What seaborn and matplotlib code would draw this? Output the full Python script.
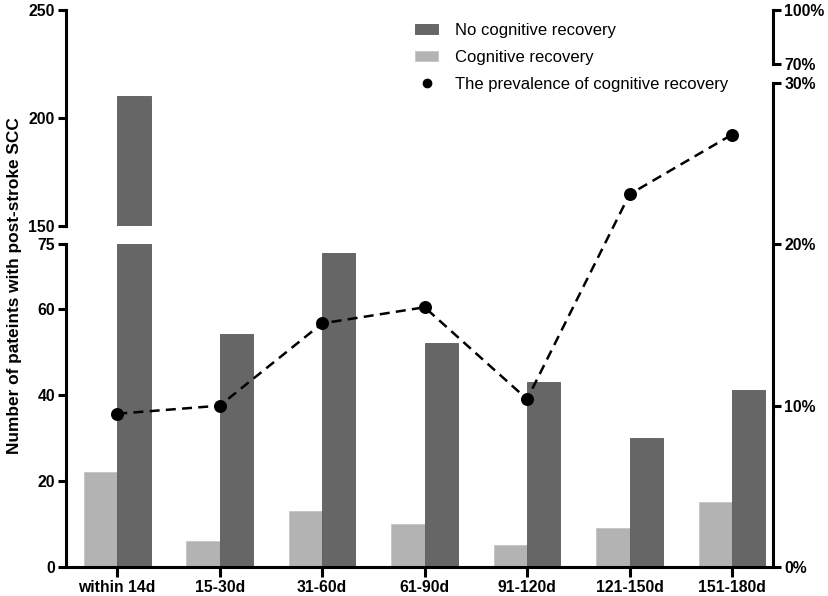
import matplotlib
matplotlib.use("Agg")
import matplotlib.pyplot as plt
import matplotlib.ticker as mticker
from matplotlib.patches import Patch
from matplotlib.lines import Line2D
import pandas as pd
import seaborn as sns

periods = ["within 14d", "15-30d", "31-60d", "61-90d", "91-120d", "121-150d", "151-180d"]
recovered = [22, 6, 13, 10, 5, 9, 15]
not_recovered = [210, 54, 73, 52, 43, 30, 41]
prevalence = [9.5, 10.0, 15.1, 16.1, 10.4, 23.1, 26.8]

df = pd.DataFrame({
    "period": periods * 2,
    "group": ["Cognitive recovery"] * 7 + ["No cognitive recovery"] * 7,
    "count": recovered + not_recovered,
})
palette = {"Cognitive recovery": "#b3b3b3", "No cognitive recovery": "#666666"}
hue_order = ["Cognitive recovery", "No cognitive recovery"]

sns.set_style("ticks")
plt.rcParams["font.family"] = ["Liberation Sans", "DejaVu Sans"]
plt.rcParams["text.color"] = "black"
plt.rcParams["xtick.color"] = "black"
plt.rcParams["ytick.color"] = "black"
plt.rcParams["axes.edgecolor"] = "black"

W, H = 829, 596
fig = plt.figure(figsize=(W / 100, H / 100), dpi=100)


def box(x0, y0, x1, y1):
    # pixel box (top-left origin) -> figure fraction
    return [x0 / W, 1 - y1 / H, (x1 - x0) / W, (y1 - y0) / H]


ax_lo = fig.add_axes(box(66, 244, 773, 567))
ax_hi = fig.add_axes(box(66, 10, 773, 226))
ax_r = fig.add_axes(box(66, 83, 773, 567))
ax_r2 = fig.add_axes(box(66, 10, 773, 64))

xlim = (-0.5, 6.4)
spine_w = 2.2
tick_kw = dict(width=spine_w, length=6, labelsize=11.3, pad=2)

for ax in (ax_lo, ax_hi):
    sns.barplot(data=df, x="period", y="count", hue="group", hue_order=hue_order,
                palette=palette, width=0.65, gap=0, saturation=1, legend=False,
                edgecolor="#5a5a5a", linewidth=0.6, ax=ax)
    ax.set_xlim(*xlim)
    ax.set_xlabel("")
    ax.set_ylabel("")
    for s in ("top", "right"):
        ax.spines[s].set_visible(False)
    ax.spines["left"].set_linewidth(spine_w)
    ax.spines["bottom"].set_linewidth(spine_w)
    ax.tick_params(**tick_kw)
    ax.patch.set_visible(False)

for p in ax_lo.patches + ax_hi.patches:
    if p.get_facecolor()[0] > 0.6:
        p.set_edgecolor("#c4c4c4")

ax_lo.set_ylim(0, 75)
ax_lo.set_yticks([0, 20, 40, 60, 75])
ax_hi.set_ylim(150, 250)
ax_hi.set_yticks([150, 200, 250])
ax_hi.spines["bottom"].set_visible(False)
ax_hi.tick_params(axis="x", bottom=False, labelbottom=False)
ax_lo.tick_params(axis="x", length=7)
for lab in ax_lo.get_xticklabels() + ax_lo.get_yticklabels() + ax_hi.get_yticklabels():
    lab.set_fontweight("bold")

sns.pointplot(x=periods, y=prevalence, color="black", linestyle="--", marker="o",
              markersize=8, linewidth=1.8, ax=ax_r)
ax_r.lines[0].set_dashes([4, 2.5])
for ax in (ax_r, ax_r2):
    ax.set_xlim(*xlim)
    ax.patch.set_visible(False)
    for s in ("top", "left", "bottom"):
        ax.spines[s].set_visible(False)
    ax.spines["right"].set_linewidth(spine_w)
    ax.tick_params(axis="x", bottom=False, labelbottom=False)
    ax.yaxis.tick_right()
    ax.tick_params(axis="y", **tick_kw)
    ax.yaxis.set_major_formatter(mticker.FuncFormatter(lambda v, _: f"{v:.0f}%"))
ax_r.set_ylim(0, 30)
ax_r.set_yticks([0, 10, 20, 30])
ax_r2.set_ylim(70, 100)
ax_r2.set_yticks([70, 100])
for ax in (ax_r, ax_r2):
    for lab in ax.get_yticklabels():
        lab.set_fontweight("bold")

fig.text(15 / W, 1 - 286 / H, "Number of pateints with post-stroke SCC",
         rotation=90, ha="center", va="center", fontsize=12.4, fontweight="bold")

handles = [
    Patch(facecolor="#666666", edgecolor="#5a5a5a", linewidth=0.6),
    Patch(facecolor="#b3b3b3", edgecolor="#c4c4c4", linewidth=0.6),
    Line2D([], [], color="black", marker="o", linestyle="none", markersize=6),
]
labels = ["No cognitive recovery", "Cognitive recovery", "The prevalence of cognitive recovery"]
fig.legend(handles, labels, loc="upper left", bbox_to_anchor=(400 / W, 1 - 8 / H),
           frameon=False, fontsize=12, handlelength=1.4, handleheight=0.6,
           handletextpad=1.0, labelspacing=0.72)

fig.savefig("out.png", dpi=100)
